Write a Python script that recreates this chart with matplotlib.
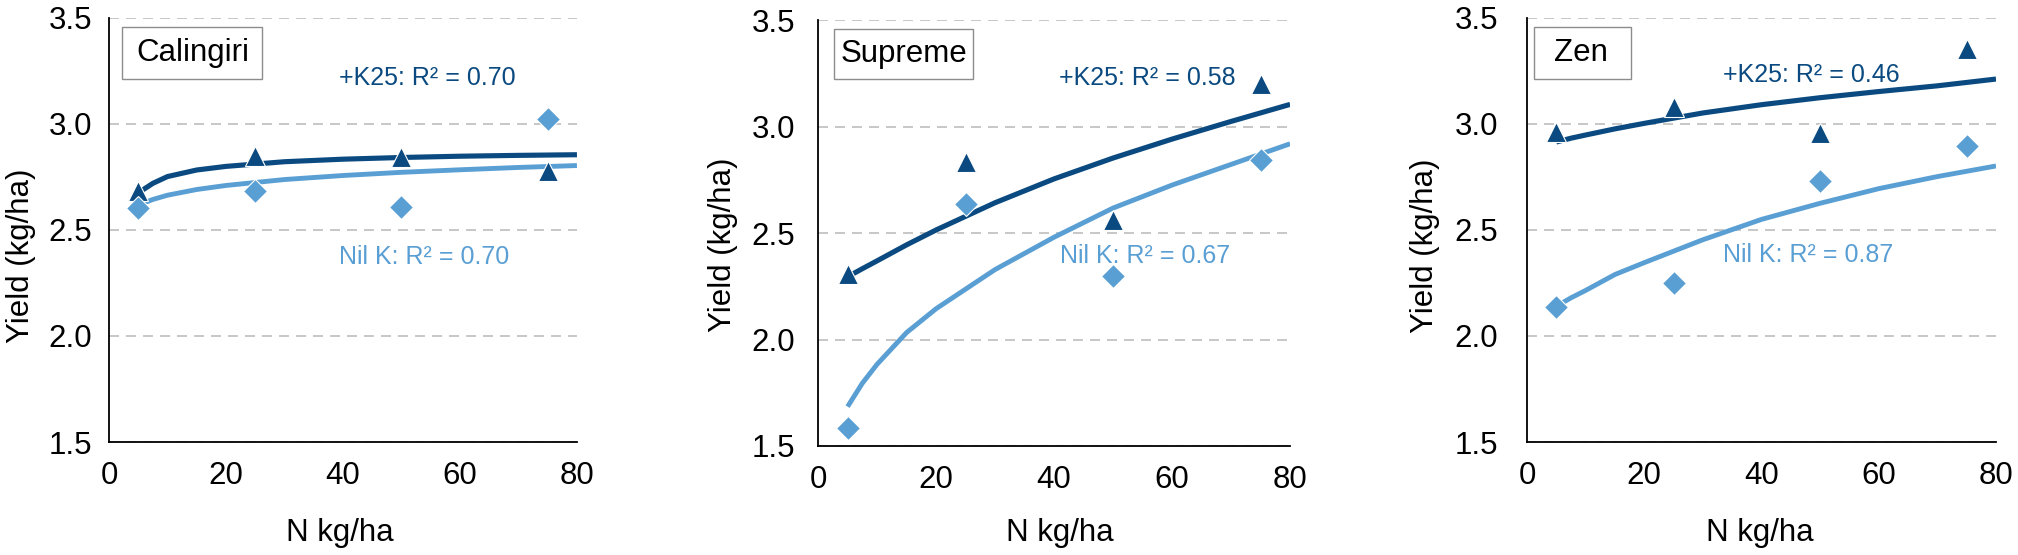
import matplotlib
matplotlib.use("Agg")
import matplotlib.pyplot as plt
from matplotlib.patches import Rectangle

plt.rcParams['font.family'] = ['Liberation Sans', 'DejaVu Sans']

# N rates applied (kg/ha)
n_rates = [5, 25, 50, 75]
trend_n = [5, 7.5, 10, 15, 20, 30, 40, 50, 60, 70, 80]

cultivars = ["Calingiri", "Supreme", "Zen"]

calingiri_k25 = [2.685, 2.85, 2.845, 2.777]
calingiri_nilk = [2.606, 2.685, 2.609, 3.022]
calingiri_k25_trend = [2.675, 2.72, 2.752, 2.783, 2.80, 2.822, 2.834, 2.842, 2.848, 2.852, 2.855]
calingiri_nilk_trend = [2.617, 2.644, 2.664, 2.691, 2.71, 2.738, 2.757, 2.772, 2.784, 2.795, 2.804]

supreme_k25 = [2.309, 2.832, 2.563, 3.20]
supreme_nilk = [1.585, 2.636, 2.301, 2.844]
supreme_k25_trend = [2.295, 2.333, 2.37, 2.445, 2.515, 2.643, 2.755, 2.853, 2.942, 3.025, 3.105]
supreme_nilk_trend = [1.685, 1.795, 1.884, 2.033, 2.145, 2.329, 2.481, 2.618, 2.726, 2.823, 2.92]

zen_k25 = [2.964, 3.08, 2.959, 3.355]
zen_nilk = [2.135, 2.249, 2.733, 2.898]
zen_k25_trend = [2.915, 2.933, 2.948, 2.977, 3.003, 3.052, 3.091, 3.124, 3.153, 3.18, 3.212]
zen_nilk_trend = [2.14, 2.18, 2.215, 2.29, 2.346, 2.454, 2.55, 2.626, 2.695, 2.752, 2.802]

k25_r2 = ["0.70", "0.58", "0.46"]
nilk_r2 = ["0.70", "0.67", "0.87"]

y_ticks = [1.5, 2.0, 2.5, 3.0, 3.5]
x_ticks = [0, 20, 40, 60, 80]

DARK = "#0a4a80"
LIGHT = "#5a9fd4"
FS = 22.5

k25_all = [calingiri_k25, supreme_k25, zen_k25]
nilk_all = [calingiri_nilk, supreme_nilk, zen_nilk]
k25_trend_all = [calingiri_k25_trend, supreme_k25_trend, zen_k25_trend]
nilk_trend_all = [calingiri_nilk_trend, supreme_nilk_trend, zen_nilk_trend]

# layout per panel: axes rect, ytick pad, label spots, name box, R2 text spots
axes_rects = [
    [0.0540, 0.2036, 0.2319, 0.7640],
    [0.4054, 0.1964, 0.2339, 0.7670],
    [0.7567, 0.2036, 0.2324, 0.7640],
]
ytick_pads = [12, 16.5, 21]
ylabel_pos = [(-0.156, 0.44), (-0.169, 0.473), (-0.186, 0.462)]
xlabel_pos = [(0.494, -0.179), (0.513, -0.168), (0.497, -0.179)]
name_boxes = [(0.028, 0.856, 0.299, 0.123), (0.034, 0.861, 0.294, 0.118), (0.015, 0.856, 0.207, 0.123)]
name_text_x = [0.18, 0.182, 0.115]
k25_text_pos = [(54.4, 3.218), (55.8, 3.229), (48.5, 3.231)]
nilk_text_pos = [(53.9, 2.374), (55.4, 2.392), (48.0, 2.382)]

fig = plt.figure(figsize=(20.18, 5.55), dpi=100)

for i, name in enumerate(cultivars):
    ax = fig.add_axes(axes_rects[i])

    ax.plot(trend_n, k25_trend_all[i], color=DARK, lw=3.7, solid_capstyle='butt',
            solid_joinstyle='round', zorder=3)
    ax.plot(trend_n, nilk_trend_all[i], color=LIGHT, lw=3.5, solid_capstyle='butt',
            solid_joinstyle='round', zorder=3)
    ax.plot(n_rates, k25_all[i], linestyle='none', marker='^', ms=15, color=DARK,
            markeredgecolor='white', markeredgewidth=0.8, zorder=4)
    ax.plot(n_rates, nilk_all[i], linestyle='none', marker='D', ms=12, color=LIGHT,
            markeredgecolor='white', markeredgewidth=0.8, zorder=4)

    ax.text(k25_text_pos[i][0], k25_text_pos[i][1], "+K25: R² = " + k25_r2[i],
            color=DARK, fontsize=18, ha='center', va='center', zorder=5)
    ax.text(nilk_text_pos[i][0], nilk_text_pos[i][1], "Nil K: R² = " + nilk_r2[i],
            color=LIGHT, fontsize=18, ha='center', va='center', zorder=5)

    bx, by, bw, bh = name_boxes[i]
    ax.add_patch(Rectangle((bx, by), bw, bh, transform=ax.transAxes, facecolor='white',
                           edgecolor='#8c8c8c', lw=1.0, zorder=6))
    ax.text(name_text_x[i], by + bh / 2, name, transform=ax.transAxes, fontsize=FS,
            ha='center', va='center', zorder=7)

    ax.set_xlim(0, 80)
    ax.set_ylim(1.5, 3.5)
    ax.set_xticks(x_ticks)
    ax.set_yticks(y_ticks)
    ax.set_yticklabels([f"{v:.1f}" for v in y_ticks])
    ax.tick_params(axis='both', length=0, labelsize=FS)
    ax.tick_params(axis='x', pad=14)
    ax.tick_params(axis='y', pad=ytick_pads[i])

    ax.yaxis.grid(True, color='#c8c8c8', lw=1.44, dashes=(5, 3.5))
    ax.set_axisbelow(True)
    for s in ['top', 'right']:
        ax.spines[s].set_visible(False)
    for s in ['left', 'bottom']:
        ax.spines[s].set_linewidth(1.3)
        ax.spines[s].set_color('black')

    ax.set_ylabel("Yield (kg/ha)", fontsize=FS)
    ax.set_xlabel("N kg/ha", fontsize=FS)
    ax.yaxis.set_label_coords(*ylabel_pos[i])
    ax.xaxis.set_label_coords(*xlabel_pos[i])

fig.savefig("out.png", dpi=100)
